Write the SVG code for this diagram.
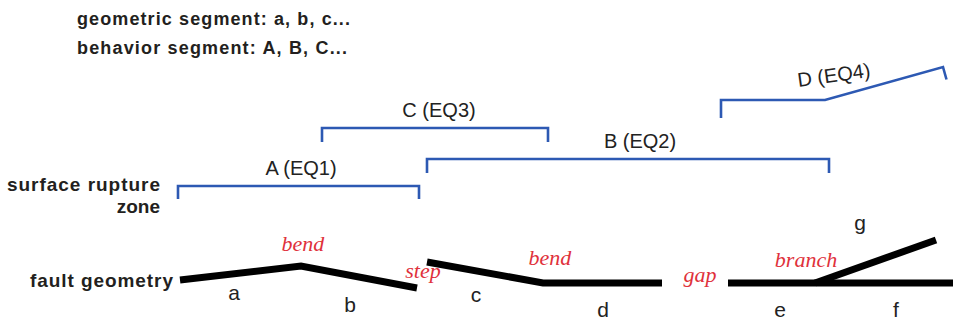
<svg xmlns="http://www.w3.org/2000/svg" width="953" height="322" viewBox="0 0 953 322">
<style>
.hdr{font-family:"Liberation Sans",Arial,sans-serif;font-weight:bold;font-size:18px;fill:#231f20}
.side{font-family:"Liberation Sans",Arial,sans-serif;font-weight:bold;font-size:19px;fill:#231f20}
.seg{font-family:"Liberation Sans",Arial,sans-serif;font-size:21px;fill:#222;text-anchor:middle}
.beh{font-family:"Liberation Sans",Arial,sans-serif;font-size:20px;fill:#222;text-anchor:middle}
.feat{font-family:"Liberation Serif","Times New Roman",serif;font-style:italic;font-size:22px;fill:#e0313b;text-anchor:middle}
.fault{fill:none;stroke:#000;stroke-width:7;stroke-linejoin:miter}
.brk{fill:none;stroke:#2d59b3;stroke-width:2.6;stroke-linejoin:miter}
</style>
<rect width="953" height="322" fill="#fff"/>
<g id="legend">
<text class="hdr" x="77" y="25" textLength="273" lengthAdjust="spacing">geometric segment: a, b, c...</text>
<text class="hdr" x="77" y="54" textLength="270" lengthAdjust="spacing">behavior segment: A, B, C...</text>
</g>
<g id="row-labels">
<text class="side" x="7" y="191" textLength="153" lengthAdjust="spacing">surface rupture</text>
<text class="side" x="160" y="213" text-anchor="end">zone</text>
<text class="side" x="30" y="287" textLength="143" lengthAdjust="spacing">fault geometry</text>
</g>
<g id="connectors">
<g id="brackets">
<path id="A" class="brk" d="M178,199 V186 H419 V199"/>
<path id="C" class="brk" d="M322,142 V128 H548 V142"/>
<path id="B" class="brk" d="M427,173 V159 H829 V173"/>
<path id="D" class="brk" d="M721,118 V100 H825 L943,67 L946.5,79.5"/>
</g>
<g id="faults">
<path class="fault" d="M180,280 L301,266 L417,288"/>
<path class="fault" d="M427,262 L543,283 H662"/>
<path class="fault" d="M728,283 H953"/>
<path class="fault" d="M815,283 L936,240"/>
</g>
</g>
<g id="behavior-labels">
<text class="beh" x="301" y="175">A (EQ1)</text>
<text class="beh" x="439" y="117">C (EQ3)</text>
<text class="beh" x="640" y="148">B (EQ2)</text>
<text class="beh" x="834" y="82" transform="rotate(-8 834 76)">D (EQ4)</text>
</g>
<g id="geometric-labels">
<text class="seg" x="234" y="300">a</text>
<text class="seg" x="350" y="312">b</text>
<text class="seg" x="476" y="302">c</text>
<text class="seg" x="603" y="317">d</text>
<text class="seg" x="780" y="317">e</text>
<text class="seg" x="896" y="317">f</text>
<text class="seg" x="860" y="230">g</text>
</g>
<g id="features">
<text class="feat" x="303" y="251">bend</text>
<text class="feat" x="423" y="278">step</text>
<text class="feat" x="550" y="265">bend</text>
<text class="feat" x="700" y="282">gap</text>
<text class="feat" x="806" y="267">branch</text>
</g>
</svg>
